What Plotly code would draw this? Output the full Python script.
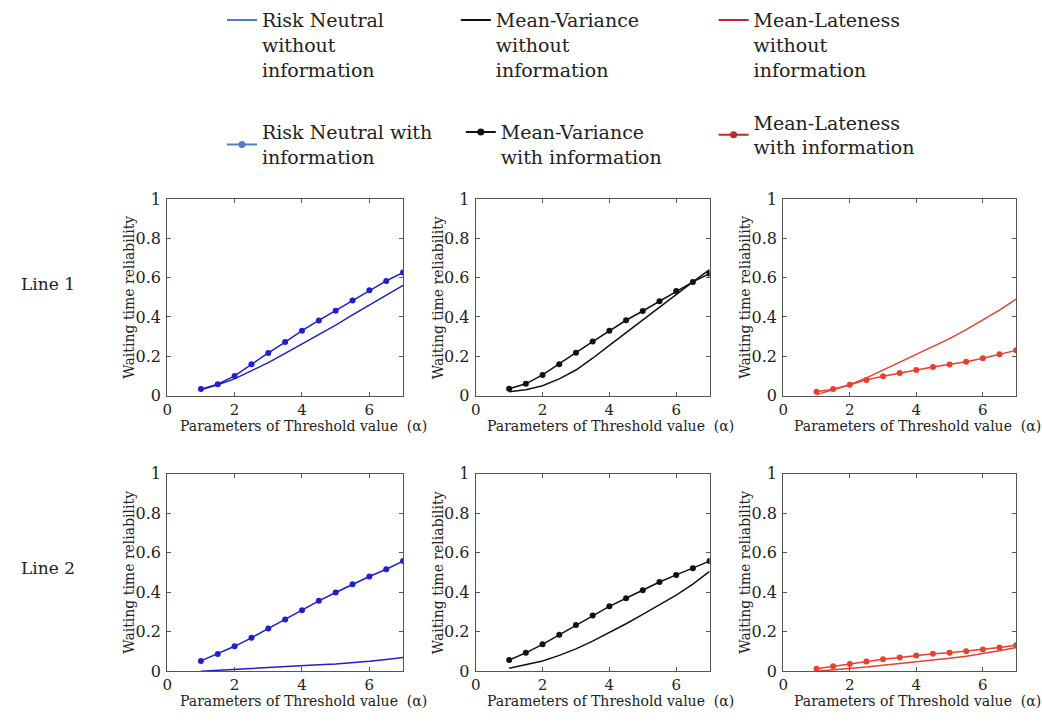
import plotly.graph_objects as go

W, H = 1042, 726

alpha = [1, 1.5, 2, 2.5, 3, 3.5, 4, 4.5, 5, 5.5, 6, 6.5, 7]

# Line 1
l1_rn_without = [0.03, 0.055, 0.085, 0.125, 0.168, 0.215, 0.262, 0.31, 0.358, 0.41, 0.46, 0.51, 0.56]
l1_rn_with = [0.033, 0.058, 0.10, 0.16, 0.217, 0.272, 0.33, 0.382, 0.432, 0.484, 0.535, 0.583, 0.626]
l1_mv_without = [0.02, 0.03, 0.05, 0.085, 0.13, 0.19, 0.255, 0.32, 0.385, 0.45, 0.515, 0.578, 0.64]
l1_mv_with = [0.035, 0.06, 0.105, 0.16, 0.218, 0.275, 0.33, 0.383, 0.43, 0.48, 0.532, 0.578, 0.62]
l1_ml_without = [0.005, 0.03, 0.055, 0.09, 0.13, 0.17, 0.21, 0.25, 0.29, 0.335, 0.385, 0.435, 0.49]
l1_ml_with = [0.02, 0.033, 0.055, 0.08, 0.098, 0.115, 0.13, 0.145, 0.158, 0.172, 0.19, 0.21, 0.23]

# Line 2
l2_rn_without = [0.0, 0.005, 0.01, 0.016, 0.021, 0.025, 0.029, 0.033, 0.037, 0.043, 0.05, 0.059, 0.069]
l2_rn_with = [0.052, 0.087, 0.126, 0.169, 0.216, 0.262, 0.308, 0.356, 0.398, 0.44, 0.479, 0.516, 0.557]
l2_mv_without = [0.015, 0.032, 0.052, 0.08, 0.113, 0.152, 0.195, 0.24, 0.287, 0.335, 0.385, 0.44, 0.505]
l2_mv_with = [0.057, 0.093, 0.136, 0.185, 0.234, 0.282, 0.328, 0.369, 0.41, 0.451, 0.487, 0.521, 0.557]
l2_ml_without = [0.0, 0.006, 0.013, 0.021, 0.03, 0.038, 0.047, 0.056, 0.065, 0.076, 0.089, 0.103, 0.12]
l2_ml_with = [0.013, 0.025, 0.036, 0.049, 0.06, 0.069, 0.08, 0.088, 0.093, 0.101, 0.11, 0.12, 0.131]

x_ticks = [0, 2, 4, 6]
y_ticks = [0, 0.2, 0.4, 0.6, 0.8, 1]
y_ticktext = ["0", "0.2", "0.4", "0.6", "0.8", "1"]
row_labels = ["Line 1", "Line 2"]
x_title = "Parameters of Threshold value\u00a0 (\u03b1)"
y_title = "Waiting time reliability"

legend_names = [
    "Risk Neutral<br>without<br>information",
    "Mean-Variance<br>without<br>information",
    "Mean-Lateness<br>without<br>information",
    "Risk Neutral with<br>information",
    "Mean-Variance<br>with information",
    "Mean-Lateness<br>with information",
]

plot_colors = ["#1f1fcc", "#111111", "#e8402c"]
legend_colors = ["#4f81bd", "#111111", "#c0282d"]

FONT = "DejaVu Serif"

# panel pixel boxes (left, right, top, bottom)
cols_px = [(163, 400), (473, 708), (782, 1016)]
rows_px = [(195, 397), (477, 680)]

data = [
    [(l1_rn_without, l1_rn_with), (l1_mv_without, l1_mv_with), (l1_ml_without, l1_ml_with)],
    [(l2_rn_without, l2_rn_with), (l2_mv_without, l2_mv_with), (l2_ml_without, l2_ml_with)],
]

fig = go.Figure()
annotations = []
layout_axes = {}

k = 0
for r, (top, bot) in enumerate(rows_px):
    for c, (left, right) in enumerate(cols_px):
        k += 1
        xa = "x" if k == 1 else f"x{k}"
        ya = "y" if k == 1 else f"y{k}"
        xkey = "xaxis" if k == 1 else f"xaxis{k}"
        ykey = "yaxis" if k == 1 else f"yaxis{k}"
        axis_common = dict(
            showline=True, linecolor="#555555", linewidth=1.2, mirror="ticks",
            ticks="inside", ticklen=4, tickcolor="#555555", showgrid=False,
            zeroline=False,
        )
        layout_axes[xkey] = dict(
            domain=[left / W, right / W], anchor=ya, range=[0, 7],
            tickvals=x_ticks, ticklabelstandoff=0,
            tickfont=dict(family=FONT, size=15, color="#222222"), **axis_common,
        )
        layout_axes[ykey] = dict(
            domain=[1 - bot / H, 1 - top / H], anchor=xa, range=[0, 1],
            tickvals=y_ticks, ticktext=y_ticktext, ticklabelstandoff=2,
            tickfont=dict(family=FONT, size=16, color="#222222"), **axis_common,
        )
        without, with_ = data[r][c]
        fig.add_trace(go.Scatter(
            x=alpha, y=without, mode="lines", xaxis=xa, yaxis=ya,
            line=dict(color=plot_colors[c], width=1.5), showlegend=False,
        ))
        fig.add_trace(go.Scatter(
            x=alpha, y=with_, mode="lines+markers", xaxis=xa, yaxis=ya,
            line=dict(color=plot_colors[c], width=1.5),
            marker=dict(color=plot_colors[c], size=6), showlegend=False,
        ))
        cx = (left + right) / 2
        annotations.append(dict(
            text=x_title, xref="paper", yref="paper", x=(cx + 18) / W,
            y=1 - (bot + 31) / H, xanchor="center", yanchor="middle",
            showarrow=False, font=dict(family=FONT, size=14, color="#222222"),
        ))
        annotations.append(dict(
            text=y_title, xref="paper", yref="paper", x=(left - 38) / W,
            y=1 - ((top + bot) / 2) / H, xanchor="center", yanchor="middle",
            textangle=-90, showarrow=False,
            font=dict(family=FONT, size=14, color="#222222"),
        ))

for r, (top, bot) in enumerate(rows_px):
    annotations.append(dict(
        text=row_labels[r], xref="paper", yref="paper", x=43 / W,
        y=1 - (282 + r * 292) / H, xanchor="center", yanchor="middle",
        showarrow=False, font=dict(family=FONT, size=17, color="#222222"),
    ))

# legend-only entries
legend_pos = [  # (text_start_px, first_line_center_px, valign)
    (263, 19, "top"), (498, 19, "top"), (757, 19, "top"),
    (263, 134, "middle"), (503, 134, "top"), (757, 124, "middle"),
]
legend_layout = {}
for i, name in enumerate(legend_names):
    c = i % 3
    with_info = i >= 3
    lname = "legend" if i == 0 else f"legend{i + 1}"
    fig.add_trace(go.Scatter(
        x=[None], y=[None], name=name, legend=lname,
        mode="lines+markers" if with_info else "lines",
        line=dict(color=legend_colors[c], width=2),
        marker=dict(color=legend_colors[c], size=7),
    ))
    tx, ty, va = legend_pos[i]
    legend_layout[lname] = dict(
        x=(tx - 45) / W, y=1 - (ty - 27) / H, xanchor="left", yanchor="top",
        bgcolor="rgba(0,0,0,0)", borderwidth=0, valign=va,
        font=dict(family=FONT, size=19, color="#222222"),
    )

fig.update_layout(
    width=W, height=H, margin=dict(l=0, r=0, t=0, b=0),
    paper_bgcolor="white", plot_bgcolor="white",
    annotations=annotations, showlegend=True, **layout_axes, **legend_layout,
)

fig.write_html(
    "out.html",
    config={"displayModeBar": False},
    post_script="document.body.style.margin='0';document.body.style.overflow='hidden';",
)
